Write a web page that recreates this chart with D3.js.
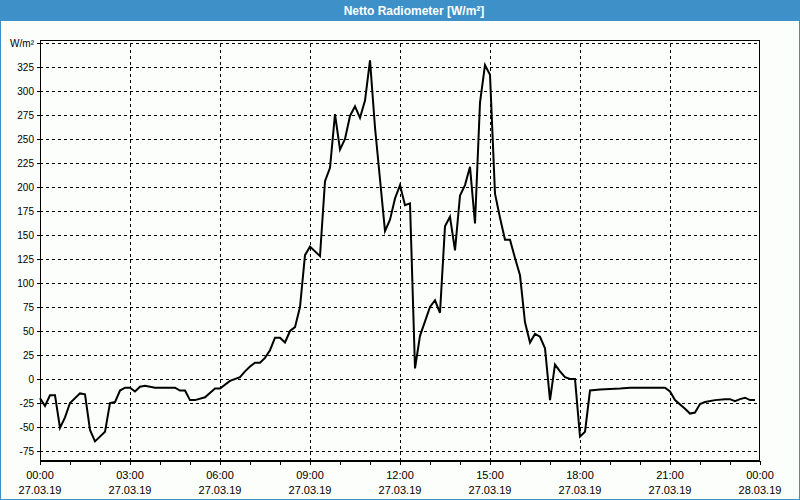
<!DOCTYPE html>
<html><head><meta charset="utf-8">
<script src="https://cdn.jsdelivr.net/npm/d3@7"></script>
<style>
html,body{margin:0;padding:0;background:#fbfefb;}
svg{display:block;}
text{font-family:"Liberation Sans",Arial,sans-serif;}
</style></head>
<body><svg id="c" width="800" height="500"></svg>
<script>
// ---- data (27.03.19, 10-minute samples, W/m²) ----
const times = ["00:00","00:10","00:20","00:30","00:40","00:50","01:00","01:20","01:30","01:40","01:50","02:10","02:20","02:30","02:40","02:50","03:00","03:10","03:20","03:30","03:50","04:30","04:40","04:50","05:00","05:10","05:30","05:50","06:00","06:20","06:40","06:50","07:00","07:10","07:20","07:30","07:40","07:50","08:00","08:10","08:20","08:30","08:40","08:50","09:00","09:20","09:30","09:40","09:50","10:00","10:10","10:20","10:30","10:40","10:50","11:00","11:10","11:30","11:40","11:50","12:00","12:10","12:20","12:30","12:40","13:00","13:10","13:20","13:30","13:40","13:50","14:00","14:10","14:20","14:30","14:40","14:50","15:00","15:10","15:20","15:30","15:40","15:50","16:00","16:10","16:20","16:30","16:40","16:50","17:00","17:10","17:20","17:30","17:40","17:50","18:00","18:10","18:20","18:40","19:20","19:40","20:50","21:00","21:10","21:30","21:40","21:50","22:00","22:10","22:30","22:50","23:00","23:10","23:20","23:30","23:40","23:50"];
const values = [-20,-28,-17,-17,-51,-40,-25,-15,-16,-53,-65,-55,-25,-24,-12,-9,-9,-13,-8,-7,-9,-9,-12,-12,-22,-22,-19,-10,-10,-2,2,8,13,17,17,22,30,43,43,38,50,54,75,129,138,128,206,220,276,239,250,274,284,272,290,332,262,154,166,188,202,181,183,11,45,75,82,69,159,169,134,191,202,221,162,288,327,317,193,168,145,145,126,108,59,38,47,44,32,-22,15,8,2,0,0,-60,-55,-12,-11,-10,-9,-9,-13,-22,-31,-36,-35,-26,-24,-22,-21,-21,-23,-21,-19.5,-22,-22];
const yTicks = [-75,-50,-25,0,25,50,75,100,125,150,175,200,225,250,275,300,325,350];
const unitLabel = "W/m²";
const title = "Netto Radiometer [W/m²]";
const day = "2019-03-27";

// fix: times array above has a few fewer entries than values? align by index
const parse = d3.timeParse("%Y-%m-%d %H:%M");
const data = values.map((v,i)=>({t: parse(day+" "+times[i]), v}));

const svg = d3.select("#c");
const W=800,H=500;
const L=40,R=760,T=40,B=461;

svg.append("rect").attr("x",0).attr("y",0).attr("width",W).attr("height",H).attr("fill","#fbfefb");
svg.append("rect").attr("x",0).attr("y",0).attr("width",W).attr("height",21).attr("fill","#3d91c8");
svg.append("rect").attr("x",0.5).attr("y",0.5).attr("width",W-1).attr("height",H-1).attr("fill","none").attr("stroke","#3d91c8").attr("stroke-width",1);
svg.append("text").attr("x",414).attr("y",15).attr("text-anchor","middle").attr("fill","#fff")
  .attr("font-weight","bold").attr("font-size",12).text(title);

const x = d3.scaleTime().domain([parse(day+" 00:00"), d3.timeDay.offset(parse(day+" 00:00"),1)]).range([L,R]);
const y = d3.scaleLinear().domain([-85.42,353.125]).range([B,T]);

// horizontal grid
const gy = svg.append("g").attr("transform",`translate(${L},0)`)
  .call(d3.axisLeft(y).tickValues(yTicks).tickSize(-(R-L)).tickFormat(""));
gy.select(".domain").remove();
gy.selectAll("line").attr("stroke","#000").attr("stroke-dasharray","3,3").attr("shape-rendering","crispEdges");
// vertical grid
const xMajor = d3.timeHour.every(3).range(x.domain()[0], d3.timeMinute.offset(x.domain()[1],1));
const gx = svg.append("g").attr("transform",`translate(0,${B})`)
  .call(d3.axisBottom(x).tickValues(xMajor.slice(1,-1)).tickSize(-(B-T)).tickFormat(""));
gx.select(".domain").remove();
gx.selectAll("line").attr("stroke","#000").attr("stroke-dasharray","3,3").attr("shape-rendering","crispEdges");

// y axis ticks + labels
const ay = svg.append("g").attr("transform",`translate(${L},0)`)
  .call(d3.axisLeft(y).tickValues(yTicks).tickSize(3).tickPadding(3).tickFormat(d=> d===350?unitLabel:d));
ay.select(".domain").remove();
ay.selectAll("line").attr("stroke","#000").attr("shape-rendering","crispEdges");
ay.selectAll("text").attr("font-size",10).attr("fill","#000").attr("font-family","'Liberation Sans',Arial,sans-serif");

// x axis ticks (hourly) + labels (3-hourly)
const ax = svg.append("g").attr("transform",`translate(0,${B})`)
  .call(d3.axisBottom(x).ticks(d3.timeHour.every(1)).tickSize(4).tickFormat(""));
ax.select(".domain").remove();
ax.selectAll("line").attr("stroke","#000").attr("shape-rendering","crispEdges");
const fT = d3.timeFormat("%H:%M"), fD = d3.timeFormat("%d.%m.%y");
const lab = svg.append("g");
xMajor.forEach(d=>{
  const t = lab.append("text").attr("x",x(d)).attr("text-anchor","middle").attr("font-size",11).attr("fill","#000");
  t.append("tspan").attr("x",x(d)).attr("y",479).text(fT(d));
  t.append("tspan").attr("x",x(d)).attr("y",494).text(fD(d));
});

// frame
svg.append("rect").attr("x",L+0.5).attr("y",T+0.5).attr("width",R-L-1).attr("height",B-T-1)
  .attr("fill","none").attr("stroke","#000").attr("stroke-width",1);
svg.append("line").attr("x1",L+0.5).attr("x2",L+0.5).attr("y1",T).attr("y2",B+1).attr("stroke","#000");
svg.append("line").attr("x1",L).attr("x2",R).attr("y1",B+0.5).attr("y2",B+0.5).attr("stroke","#000");

// series
const line = d3.line().x(d=>x(d.t)).y(d=>y(d.v));
svg.append("path").datum(data).attr("d",line).attr("fill","none").attr("stroke","#000").attr("stroke-width",2).attr("stroke-linejoin","miter");
</script></body></html>
